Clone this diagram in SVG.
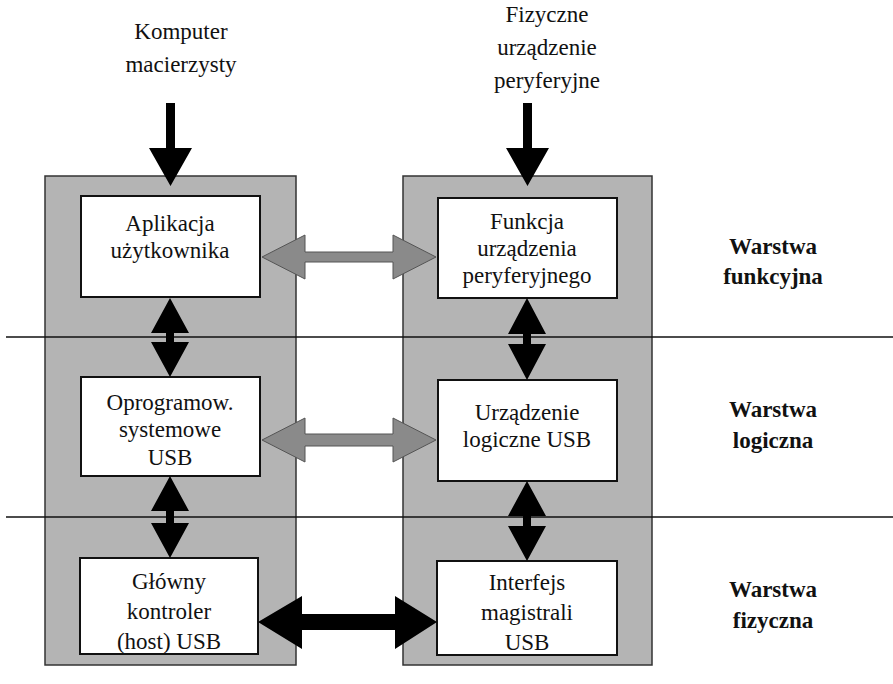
<svg xmlns="http://www.w3.org/2000/svg" width="893" height="684" viewBox="0 0 893 684">
<style>
.panel{fill:#b4b4b4;stroke:#333;stroke-width:1.5}
.box{fill:#fff;stroke:#111;stroke-width:2}
text{font-family:'Liberation Serif','Times New Roman','DejaVu Serif',serif}
.t{font-size:23px;fill:#111;text-anchor:middle}
.b{font-size:23px;font-weight:bold;fill:#111;text-anchor:middle}
.blk{fill:#000}
.gry{fill:#8a8a8a;stroke:#555;stroke-width:1}
.line{stroke:#111;stroke-width:1.5}
</style>
<rect width="893" height="684" fill="#fff"/>

<g id="panel-host"><rect class="panel" x="45" y="176" width="251" height="489"/></g>
<g id="panel-device"><rect class="panel" x="403" y="176" width="249" height="489"/></g>

<g id="layer-lines">
<line class="line" x1="6" y1="337" x2="893" y2="337"/>
<line class="line" x1="6" y1="517" x2="893" y2="517"/>
</g>

<g id="label-host"><text class="t" x="181" y="39">Komputer</text><text class="t" x="181" y="72">macierzysty</text></g>
<g id="label-device"><text class="t" x="547" y="22">Fizyczne</text><text class="t" x="547" y="55">urządzenie</text><text class="t" x="547" y="88">peryferyjne</text></g>

<g id="app"><rect class="box" x="81" y="196" width="179" height="101"/><text class="t" x="170" y="231">Aplikacja</text><text class="t" x="170" y="258">użytkownika</text></g>
<g id="func"><rect class="box" x="438" y="198" width="179" height="100"/><text class="t" x="527" y="229">Funkcja</text><text class="t" x="527" y="256">urządzenia</text><text class="t" x="527" y="283">peryferyjnego</text></g>
<g id="sysw"><rect class="box" x="81" y="377" width="179" height="99"/><text class="t" x="170" y="410">Oprogramow.</text><text class="t" x="170" y="437">systemowe</text><text class="t" x="170" y="465">USB</text></g>
<g id="logdev"><rect class="box" x="438" y="380" width="179" height="101"/><text class="t" x="527" y="420">Urządzenie</text><text class="t" x="527" y="447">logiczne USB</text></g>
<g id="hostc"><rect class="box" x="80" y="558" width="178" height="96"/><text class="t" x="169" y="589">Główny</text><text class="t" x="169" y="619">kontroler</text><text class="t" x="169" y="649">(host) USB</text></g>
<g id="busif"><rect class="box" x="437" y="561" width="180" height="94"/><text class="t" x="527" y="590">Interfejs</text><text class="t" x="527" y="620">magistrali</text><text class="t" x="527" y="650">USB</text></g>

<g id="layer-func"><text class="b" x="773" y="254">Warstwa</text><text class="b" x="773" y="284">funkcyjna</text></g>
<g id="layer-log"><text class="b" x="773" y="417">Warstwa</text><text class="b" x="773" y="448">logiczna</text></g>
<g id="layer-phys"><text class="b" x="773" y="597">Warstwa</text><text class="b" x="773" y="628">fizyczna</text></g>

<g id="connectors">
<polygon class="blk" points="166,103 175,103 175,148 192,148 170.5,186 149,148 166,148"/>
<polygon class="blk" points="523,103 532,103 532,148 549,148 527.5,186 506,148 523,148"/>
<polygon class="blk" points="170,298 189,333 174,333 174,342 189,342 170,377 151,342 166,342 166,333 151,333"/>
<polygon class="blk" points="170,476 189,511 174,511 174,523 189,523 170,558 151,523 166,523 166,511 151,511"/>
<polygon class="blk" points="527,298 546,334 531,334 531,344 546,344 527,380 508,344 523,344 523,334 508,334"/>
<polygon class="blk" points="527,481 546,516 531,516 531,526 546,526 527,561 508,526 523,526 523,516 508,516"/>
<polygon class="gry" points="262,257 305,235 305,252 393,252 393,235 436,257 393,279 393,262 305,262 305,279"/>
<polygon class="gry" points="262,440 305,418 305,434 393,434 393,418 436,440 393,462 393,446 305,446 305,462"/>
<polygon class="blk" points="258,622 302,596 302,614 395,614 395,596 437,622 395,649 395,630 302,630 302,649"/>
</g>
</svg>
